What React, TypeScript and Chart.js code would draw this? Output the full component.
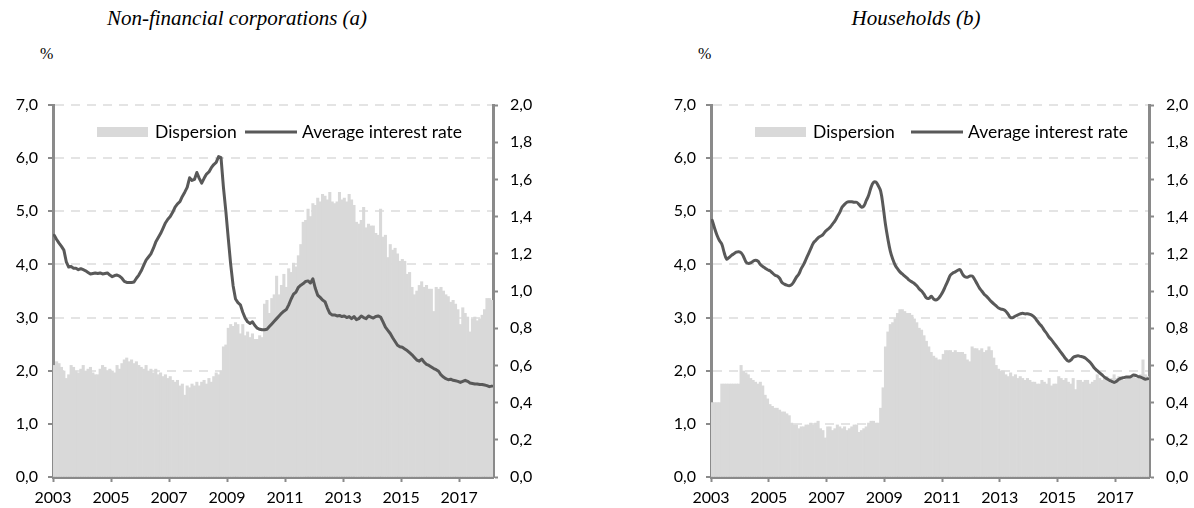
import React, { useEffect, useRef } from 'react';
import { Chart, registerables } from 'chart.js';

Chart.register(...registerables);

// ---------- data (monthly, Jan 2003 - Feb 2018) ----------
const FIRST_YEAR = 2003;

const nfcRate = [
  4.55, 4.47, 4.40, 4.34, 4.27, 4.05, 3.95, 3.96, 3.93, 3.93, 3.90, 3.92,
  3.90, 3.88, 3.85, 3.82, 3.83, 3.84, 3.83, 3.84, 3.82, 3.83, 3.84, 3.80,
  3.77, 3.79, 3.80, 3.78, 3.74, 3.68, 3.66, 3.66, 3.66, 3.67, 3.74, 3.80,
  3.88, 3.98, 4.08, 4.14, 4.20, 4.30, 4.42, 4.50, 4.58, 4.68, 4.78, 4.85,
  4.90, 4.98, 5.08, 5.14, 5.18, 5.28, 5.36, 5.45, 5.63, 5.58, 5.60, 5.73,
  5.62, 5.53, 5.62, 5.70, 5.74, 5.82, 5.88, 5.92, 6.03, 6.01, 5.45, 5.00,
  4.49, 4.00, 3.60, 3.35, 3.28, 3.24, 3.10, 2.99, 2.92, 2.89, 2.92, 2.85,
  2.80, 2.78, 2.77, 2.77, 2.78, 2.83, 2.88, 2.93, 2.98, 3.03, 3.08, 3.12,
  3.15, 3.24, 3.35, 3.44, 3.48, 3.57, 3.61, 3.64, 3.68, 3.69, 3.65, 3.73,
  3.55, 3.42, 3.38, 3.33, 3.30, 3.18, 3.08, 3.05, 3.05, 3.03, 3.04, 3.02,
  3.03, 3.00, 3.02, 2.98, 3.02, 2.96, 2.98, 3.03, 3.00, 2.98, 3.03, 3.01,
  2.99, 3.02, 3.03, 3.01, 2.92, 2.82, 2.76, 2.70, 2.62, 2.55, 2.48, 2.45,
  2.44, 2.41, 2.38, 2.34, 2.30, 2.25, 2.20, 2.18, 2.22, 2.16, 2.12, 2.10,
  2.07, 2.04, 2.02, 1.99, 1.92, 1.88, 1.85, 1.83, 1.84, 1.82, 1.81, 1.80,
  1.78, 1.80, 1.82, 1.80, 1.77, 1.76, 1.75, 1.75, 1.74, 1.74, 1.73, 1.72,
  1.70, 1.71,
];

const nfcDispersion = [
  0.60, 0.62, 0.61, 0.59, 0.57, 0.53, 0.55, 0.60, 0.59, 0.57, 0.56, 0.58,
  0.60, 0.57, 0.58, 0.59, 0.56, 0.55, 0.55, 0.58, 0.60, 0.59, 0.57, 0.58,
  0.57, 0.56, 0.60, 0.58, 0.61, 0.63, 0.64, 0.62, 0.63, 0.61, 0.62, 0.60,
  0.59, 0.58, 0.60, 0.57, 0.58, 0.56, 0.58, 0.55, 0.56, 0.54, 0.55, 0.53,
  0.54, 0.52, 0.51, 0.52, 0.49, 0.50, 0.44, 0.49, 0.48, 0.50, 0.49, 0.51,
  0.49, 0.51, 0.52, 0.50, 0.53, 0.51, 0.54, 0.56, 0.55, 0.57, 0.70, 0.71,
  0.80, 0.82, 0.81, 0.83, 0.82, 0.77, 0.82, 0.76, 0.78, 0.75, 0.77, 0.74,
  0.74, 0.76, 0.75, 0.93, 0.95, 0.88, 0.96, 0.98, 1.08, 0.98, 1.03, 1.09,
  1.02, 1.12, 1.10, 1.15, 1.13, 1.19, 1.25, 1.37, 1.38, 1.44, 1.40, 1.47,
  1.46, 1.50, 1.48, 1.52, 1.51, 1.49, 1.53, 1.48, 1.47, 1.48, 1.53, 1.49,
  1.50, 1.48, 1.52, 1.49, 1.46, 1.37, 1.36, 1.38, 1.45, 1.34, 1.36, 1.35,
  1.35, 1.31, 1.30, 1.44, 1.29, 1.30, 1.18, 1.25, 1.22, 1.23, 1.20, 1.16,
  1.17, 1.16, 1.09, 1.10, 1.02, 0.98, 1.00, 1.03, 1.05, 1.02, 1.03, 1.01,
  1.01, 0.89, 1.02, 1.01, 1.02, 1.00, 0.98, 0.97, 0.94, 0.95, 0.93, 0.90,
  0.82, 0.91, 0.88, 0.86, 0.78, 0.85, 0.86, 0.84, 0.85, 0.87, 0.90, 0.96,
  0.96, 0.95,
];

const hhRate = [
  4.83, 4.68, 4.55, 4.45, 4.38, 4.22, 4.10, 4.13, 4.17, 4.20, 4.23, 4.24,
  4.22, 4.15, 4.05, 4.02, 4.03, 4.06, 4.08, 4.06, 4.00, 3.96, 3.93, 3.90,
  3.88, 3.84, 3.80, 3.78, 3.74, 3.66, 3.63, 3.61, 3.60, 3.62, 3.68, 3.76,
  3.82, 3.92, 4.00, 4.10, 4.20, 4.30, 4.40, 4.45, 4.50, 4.53, 4.56, 4.62,
  4.66, 4.70, 4.76, 4.82, 4.90, 4.98, 5.08, 5.13, 5.17, 5.18, 5.18, 5.17,
  5.17, 5.13, 5.08, 5.10, 5.20, 5.30, 5.45, 5.54, 5.55, 5.48, 5.38, 5.10,
  4.75, 4.48, 4.25, 4.10, 3.99, 3.92, 3.86, 3.82, 3.78, 3.74, 3.70, 3.67,
  3.64, 3.60, 3.54, 3.50, 3.44, 3.37, 3.36, 3.40, 3.35, 3.33, 3.36, 3.42,
  3.50, 3.60, 3.70, 3.80, 3.84, 3.86, 3.89, 3.90, 3.82, 3.77, 3.76, 3.78,
  3.78, 3.72, 3.64, 3.56, 3.50, 3.44, 3.40, 3.35, 3.30, 3.26, 3.22, 3.18,
  3.16, 3.15, 3.12, 3.06, 3.00, 3.00, 3.03, 3.05, 3.07, 3.08, 3.07, 3.07,
  3.06, 3.04, 3.00, 2.94, 2.88, 2.83, 2.76, 2.70, 2.63, 2.58, 2.52, 2.46,
  2.40, 2.34, 2.28, 2.22, 2.18, 2.20, 2.25, 2.27, 2.28, 2.27, 2.26, 2.24,
  2.20, 2.16, 2.10, 2.04, 2.00, 1.96, 1.92, 1.88, 1.85, 1.82, 1.80, 1.78,
  1.80, 1.84, 1.86, 1.87, 1.88, 1.88, 1.89, 1.92, 1.91, 1.89, 1.88, 1.86,
  1.84, 1.85,
];

const hhDispersion = [
  0.40, 0.40, 0.40, 0.40, 0.50, 0.50, 0.50, 0.50, 0.50, 0.50, 0.50, 0.50,
  0.60, 0.57, 0.56, 0.55, 0.53, 0.52, 0.51, 0.50, 0.51, 0.49, 0.44, 0.42,
  0.39, 0.38, 0.37, 0.37, 0.36, 0.35, 0.35, 0.34, 0.33, 0.29, 0.28, 0.28,
  0.26, 0.27, 0.27, 0.28, 0.28, 0.29, 0.28, 0.29, 0.30, 0.26, 0.25, 0.21,
  0.27, 0.27, 0.25, 0.26, 0.28, 0.27, 0.26, 0.27, 0.25, 0.26, 0.27, 0.28,
  0.28, 0.24, 0.25, 0.26, 0.27, 0.29, 0.30, 0.30, 0.29, 0.29, 0.37, 0.48,
  0.70, 0.78, 0.82, 0.83, 0.85, 0.88, 0.90, 0.90, 0.89, 0.88, 0.88, 0.87,
  0.85, 0.83, 0.80, 0.79, 0.76, 0.73, 0.70, 0.67, 0.65, 0.64, 0.63, 0.63,
  0.66, 0.68, 0.68, 0.68, 0.67, 0.68, 0.67, 0.67, 0.67, 0.66, 0.63, 0.62,
  0.70, 0.69, 0.69, 0.68, 0.69, 0.67, 0.68, 0.70, 0.68, 0.64, 0.60, 0.58,
  0.57, 0.57, 0.55, 0.54, 0.56, 0.54, 0.55, 0.53, 0.54, 0.53, 0.52, 0.53,
  0.52, 0.51, 0.51, 0.50, 0.50, 0.52, 0.51, 0.50, 0.53, 0.49, 0.50, 0.50,
  0.54, 0.53, 0.52, 0.53, 0.51, 0.50, 0.53, 0.47, 0.52, 0.52, 0.51, 0.52,
  0.52, 0.50, 0.51, 0.52, 0.55, 0.53, 0.52, 0.53, 0.54, 0.52, 0.53, 0.55,
  0.53, 0.54, 0.53, 0.52, 0.53, 0.54, 0.53, 0.54, 0.53, 0.54, 0.55, 0.63,
  0.55, 0.54,
];

const yearTicks = [2003, 2005, 2007, 2009, 2011, 2013, 2015, 2017];
const leftTicks = [0, 1, 2, 3, 4, 5, 6, 7];
const rightTicks = [0, 0.2, 0.4, 0.6, 0.8, 1.0, 1.2, 1.4, 1.6, 1.8, 2.0];
const seriesLabels = ['Dispersion', 'Average interest rate'];

// ---------- styling ----------
const BAR_COLOR = '#d9d9d9';
const LINE_COLOR = '#595959';
const AXIS_COLOR = '#8a8a8a';
const GRID_COLOR = '#e4e4e4';
const FONT = 'Lato';

const fmt = (v: number) => Number(v).toFixed(1).replace('.', ',');

const toPoints = (arr: number[]) =>
  arr.map((v, i) => ({ x: FIRST_YEAR + (i + 0.5) / 12, y: v }));

const insideLegend = {
  id: 'insideLegend',
  afterDatasetsDraw(chart: any, _args: any, opts: any) {
    const { ctx, chartArea } = chart;
    const bar = chart.data.datasets[1];
    const line = chart.data.datasets[0];
    const cy = chartArea.top + 27;
    ctx.save();
    ctx.fillStyle = bar.backgroundColor;
    ctx.fillRect(chartArea.left + 44, cy - 5, 51, 10);
    ctx.font = `17.5px ${FONT}`;
    ctx.fillStyle = '#000';
    ctx.textBaseline = 'middle';
    ctx.textAlign = 'left';
    ctx.fillText(bar.label, chartArea.left + 102, cy);
    ctx.strokeStyle = line.borderColor;
    ctx.lineWidth = 3;
    ctx.beginPath();
    ctx.moveTo(chartArea.left + opts.lineStart, cy);
    ctx.lineTo(chartArea.left + opts.lineStart + 52, cy);
    ctx.stroke();
    ctx.fillText(line.label, chartArea.left + opts.lineStart + 57, cy);
    ctx.restore();
  },
};

type PanelProps = {
  left: number;
  title: string;
  titleCenter: number;
  pctLeft: number;
  rate: number[];
  dispersion: number[];
  tension: number;
  yWidth: number;
  y2Width: number;
  legendLineStart: number;
};

function Panel(p: PanelProps) {
  const ref = useRef<HTMLCanvasElement>(null);
  useEffect(() => {
    const canvas = ref.current;
    if (!canvas) return;
    const n = p.rate.length;
    const chart = new Chart(canvas, {
      type: 'bar',
      data: {
        datasets: [
          {
            type: 'line',
            label: seriesLabels[1],
            data: toPoints(p.rate),
            yAxisID: 'y',
            borderColor: LINE_COLOR,
            borderWidth: 3,
            pointRadius: 0,
            tension: p.tension,
            borderJoinStyle: 'round',
            borderCapStyle: 'round',
            order: 0,
          } as any,
          {
            type: 'bar',
            label: seriesLabels[0],
            data: toPoints(p.dispersion),
            yAxisID: 'y2',
            backgroundColor: BAR_COLOR,
            borderWidth: 0,
            barPercentage: 1,
            categoryPercentage: 1,
            order: 1,
          } as any,
        ],
      },
      options: {
        responsive: false,
        animation: false,
        events: [],
        layout: { padding: { top: 105, left: 0, right: 0, bottom: 0 } },
        plugins: {
          legend: { display: false },
          tooltip: { enabled: false },
          title: { display: false },
          insideLegend: { lineStart: p.legendLineStart },
        } as any,
        scales: {
          x: {
            type: 'linear',
            offset: false,
            min: FIRST_YEAR,
            max: FIRST_YEAR + n / 12,
            afterBuildTicks: (s: any) => {
              s.ticks = yearTicks.map((v) => ({ value: v }));
            },
            afterFit: (s: any) => {
              s.height = 31;
            },
            ticks: {
              callback: (v: any) => String(v),
              font: { family: FONT, size: 16 },
              color: '#000',
              padding: 6,
              maxRotation: 0,
              autoSkip: false,
            },
            grid: {
              display: true,
              offset: false,
              drawOnChartArea: false,
              drawTicks: true,
              tickLength: 5,
              tickColor: AXIS_COLOR,
              tickWidth: 2,
            },
            border: { display: true, color: AXIS_COLOR, width: 3 },
          },
          y: {
            type: 'linear',
            position: 'left',
            min: 0,
            max: 7,
            afterBuildTicks: (s: any) => {
              s.ticks = leftTicks.map((v) => ({ value: v }));
            },
            afterFit: (s: any) => {
              s.width = p.yWidth;
            },
            ticks: {
              callback: (v: any) => fmt(v),
              font: { family: FONT, size: 16 },
              color: '#000',
              padding: 10,
            },
            grid: {
              color: GRID_COLOR,
              lineWidth: 2,
              drawTicks: true,
              tickLength: 5,
              tickColor: AXIS_COLOR,
              tickWidth: 2,
            },
            border: { display: true, color: AXIS_COLOR, width: 3, dash: [9, 7] },
          },
          y2: {
            type: 'linear',
            position: 'right',
            min: 0,
            max: 2,
            afterBuildTicks: (s: any) => {
              s.ticks = rightTicks.map((v) => ({ value: v }));
            },
            afterFit: (s: any) => {
              s.width = p.y2Width;
            },
            ticks: {
              callback: (v: any) => fmt(v),
              font: { family: FONT, size: 16 },
              color: '#000',
              padding: 12,
            },
            grid: {
              drawOnChartArea: false,
              drawTicks: true,
              tickLength: 5,
              tickColor: AXIS_COLOR,
              tickWidth: 2,
            },
            border: { display: true, color: AXIS_COLOR, width: 3 },
          },
        },
      } as any,
      plugins: [insideLegend],
    });
    return () => chart.destroy();
  }, []);

  return (
    <div style={{ position: 'absolute', left: p.left, top: 0, width: 597, height: 508 }}>
      <div
        style={{
          position: 'absolute',
          left: p.titleCenter,
          top: 8,
          transform: 'translateX(-50%)',
          whiteSpace: 'nowrap',
          fontFamily: '"Liberation Serif", serif',
          fontStyle: 'italic',
          fontSize: 21,
          lineHeight: 1,
          color: '#000',
        }}
      >
        {p.title}
      </div>
      <div
        style={{
          position: 'absolute',
          left: p.pctLeft,
          top: 46,
          fontFamily: '"Liberation Serif", serif',
          fontSize: 16,
          lineHeight: 1,
          color: '#000',
        }}
      >
        %
      </div>
      <canvas ref={ref} width={597} height={508} style={{ position: 'absolute', left: 0, top: 0 }} />
    </div>
  );
}

export default function App() {
  return (
    <div style={{ position: 'absolute', left: 0, top: 0, width: 1194, height: 508, background: '#fff', overflow: 'hidden' }}>
      <Panel
        left={0}
        title="Non-financial corporations (a)"
        titleCenter={237}
        pctLeft={40}
        rate={nfcRate}
        dispersion={nfcDispersion}
        tension={0}
        yWidth={53}
        y2Width={104}
        legendLineStart={192}
      />
      <Panel
        left={597}
        title="Households (b)"
        titleCenter={319}
        pctLeft={101}
        rate={hhRate}
        dispersion={hhDispersion}
        tension={0.4}
        yWidth={114}
        y2Width={45}
        legendLineStart={200}
      />
    </div>
  );
}
